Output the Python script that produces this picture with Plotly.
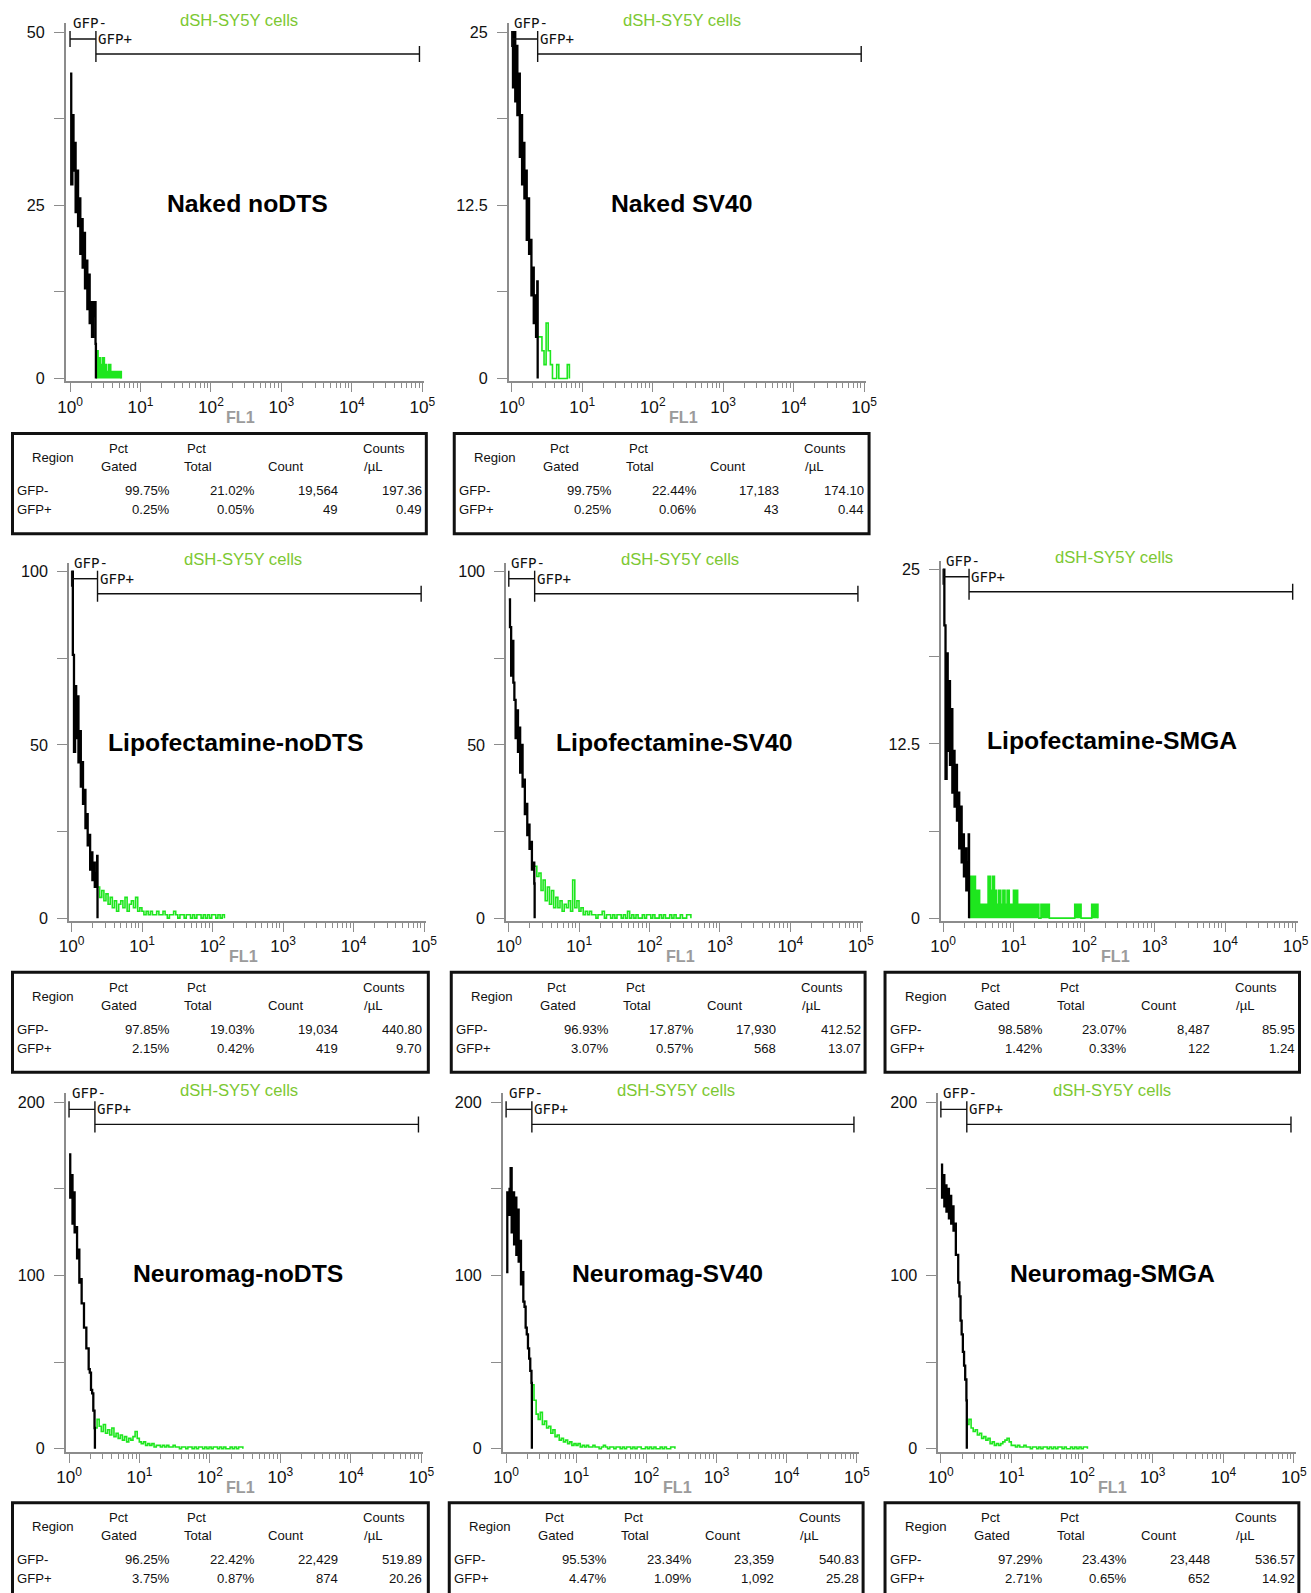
import math
import plotly.graph_objects as go

W, H = 1311, 1593

# ---------------- data ----------------
PANEL_NAMES = ["Naked noDTS", "Naked SV40", "Lipofectamine-noDTS", "Lipofectamine-SV40",
               "Lipofectamine-SMGA", "Neuromag-noDTS", "Neuromag-SV40", "Neuromag-SMGA"]
CELL_LINE = "dSH-SY5Y cells"
Y_MAX = [50, 25, 100, 100, 25, 200, 200, 200]

X_TICK_VALUES = [1, 10, 100, 1000, 10000, 100000]
X_TICK_TEXT = ["10<sup>0</sup>", "10<sup>1</sup>", "10<sup>2</sup>",
               "10<sup>3</sup>", "10<sup>4</sup>", "10<sup>5</sup>"]
X_TITLE = "FL1"

GATE_LOW = 1.0
GATE_SPLIT = 2.33
GATE_HIGH = 91000
GATE_NAMES = ["GFP-", "GFP+"]

# FL1 channel positions (bins)
BLACK_X = [1.00, 1.04, 1.08, 1.12, 1.16, 1.20, 1.25, 1.30, 1.35, 1.40, 1.45, 1.51,
           1.57, 1.63, 1.69, 1.76, 1.83, 1.90, 1.97, 2.05, 2.13, 2.21, 2.30, 2.33]
GREEN_X = [2.33, 2.50, 2.68, 2.87, 3.07, 3.29, 3.53, 3.78, 4.05, 4.34,
           4.65, 4.98, 5.34, 5.72, 6.13, 6.57, 7.04, 7.54, 8.08, 8.66,
           9.28, 9.94, 10.6, 11.4, 12.2, 13.1, 14.0, 15.0, 16.1, 17.3,
           18.5, 19.8, 21.2, 22.8, 24.4, 26.1, 28.0, 30.0, 32.1, 34.4,
           36.9, 39.5, 42.3, 45.4, 48.6, 52.1, 55.8, 59.8, 64.1, 68.7,
           73.6, 78.8, 84.5, 90.5, 97.0, 104, 111, 119, 128, 137,
           147, 157, 168, 180, 193, 207, 222, 238, 255, 273,
           293, 314, 336, 360, 386]

black_naked_nodts = [44, 28, 38, 30, 34, 24, 30, 22, 26, 18, 23, 16, 21, 13, 17, 10, 15, 8, 11, 6, 9, 11, 5, 0]
black_naked_sv40 = [25, 21, 25, 20, 24, 19, 22, 16, 19, 14, 17, 13, 15, 10, 13, 9, 10, 6, 8, 4, 6, 3, 7, 0]
black_lipo_nodts = [100, 76, 48, 67, 52, 64, 45, 54, 38, 45, 33, 37, 26, 30, 21, 24, 14, 19, 11, 16, 9, 13, 18, 0]
black_lipo_sv40 = [92, 84, 70, 80, 68, 63, 52, 60, 48, 55, 42, 50, 38, 40, 30, 33, 24, 27, 20, 22, 14, 16, 10, 0]
black_lipo_smga = [25, 21, 10, 19, 12, 17, 11, 15, 9, 12, 8, 11, 7, 9, 5, 8, 4, 6, 3, 5, 2, 4, 6, 0]
black_neuro_nodts = [170, 145, 158, 130, 148, 125, 128, 110, 115, 96, 98, 84, 84, 70, 70, 58, 58, 46, 44, 34, 32, 22, 12, 0]
black_neuro_sv40 = [102, 148, 135, 150, 162, 125, 148, 118, 145, 112, 138, 108, 120, 95, 102, 85, 82, 70, 66, 58, 52, 45, 38, 0]
black_neuro_smga = [164, 145, 158, 140, 152, 137, 150, 133, 146, 130, 140, 126, 130, 112, 112, 96, 88, 74, 66, 56, 48, 40, 28, 0]

green_naked_nodts = [4, 3, 2, 3, 2, 1, 2, 1, 1, 1, 1, 1, 0]
green_naked_sv40 = [3, 3, 2, 1, 4, 2, 1, 0, 0, 1, 0, 0, 0, 0, 1, 0]
green_lipo_nodts = [9, 6, 8, 5, 7, 4, 6, 3, 5, 2, 4, 5, 3, 6, 2, 4, 5, 3, 6, 2,
                    3, 2, 1, 2, 1, 2, 1, 1, 2, 1, 1, 2, 1, 0, 1, 1, 2, 1, 0, 1,
                    1, 0, 1, 1, 0, 1, 0, 1, 1, 0, 1, 0, 1, 0, 1, 1, 0, 1, 0, 1, 0]
green_lipo_sv40 = [15, 12, 13, 8, 11, 5, 9, 4, 8, 3, 6, 3, 5, 2, 4, 3, 5, 2, 11, 3,
                   5, 2, 3, 1, 2, 1, 2, 1, 1, 0, 1, 1, 2, 0, 1, 1, 0, 1, 0, 1,
                   1, 0, 1, 0, 2, 0, 1, 0, 1, 0, 0, 1, 0, 1, 1, 0, 1, 0, 0, 1,
                   0, 1, 0, 0, 1, 0, 1, 0, 0, 1, 0, 0, 1, 1, 0]
green_lipo_smga = [3, 3, 3, 2, 2, 1, 1, 1, 1, 3, 2, 3, 2, 1, 2, 1, 2, 1, 2, 1,
                   1, 2, 2, 1, 1, 1, 1, 1, 1, 1, 1, 1, 1, 0, 1, 1, 1, 1, 0, 0,
                   0, 0, 0, 0, 0, 0, 0, 0, 0, 0, 1, 1, 1, 0, 0, 0, 0, 0, 1, 1, 1, 0]
green_neuro_nodts = [12, 17, 13, 10, 14, 9, 11, 8, 12, 7, 9, 6, 8, 5, 7, 4, 6, 5, 7, 10,
                     6, 4, 3, 4, 2, 3, 2, 3, 1, 2, 2, 1, 2, 1, 2, 1, 1, 2, 1, 1,
                     0, 1, 1, 0, 1, 1, 0, 1, 0, 1, 1, 0, 1, 0, 1, 0, 1, 1, 0, 1,
                     0, 1, 0, 0, 1, 0, 1, 0, 1, 1, 0]
green_neuro_sv40 = [37, 28, 20, 17, 21, 14, 16, 12, 13, 9, 11, 7, 8, 5, 6, 4, 5, 3, 4, 2,
                    3, 2, 3, 1, 2, 1, 2, 1, 1, 2, 1, 1, 0, 1, 2, 1, 0, 1, 1, 0,
                    1, 1, 0, 1, 0, 1, 1, 0, 1, 0, 1, 1, 0, 0, 1, 0, 1, 0, 1, 0,
                    0, 1, 0, 1, 0, 0, 1, 1, 0]
green_neuro_smga = [14, 17, 12, 10, 11, 8, 9, 6, 7, 5, 6, 3, 4, 2, 3, 2, 3, 4, 5, 6,
                    4, 2, 2, 1, 2, 1, 1, 2, 1, 1, 0, 1, 1, 0, 1, 0, 1, 1, 0, 1,
                    0, 1, 0, 1, 1, 0, 1, 0, 0, 1, 0, 1, 0, 1, 0, 1, 1, 0]

BLACK_SERIES = [black_naked_nodts, black_naked_sv40, black_lipo_nodts, black_lipo_sv40,
                black_lipo_smga, black_neuro_nodts, black_neuro_sv40, black_neuro_smga]
GREEN_SERIES = [green_naked_nodts, green_naked_sv40, green_lipo_nodts, green_lipo_sv40,
                green_lipo_smga, green_neuro_nodts, green_neuro_sv40, green_neuro_smga]

GATED_NEG = ["99.75%", "99.75%", "97.85%", "96.93%", "98.58%", "96.25%", "95.53%", "97.29%"]
GATED_POS = ["0.25%", "0.25%", "2.15%", "3.07%", "1.42%", "3.75%", "4.47%", "2.71%"]
TOTAL_NEG = ["21.02%", "22.44%", "19.03%", "17.87%", "23.07%", "22.42%", "23.34%", "23.43%"]
TOTAL_POS = ["0.05%", "0.06%", "0.42%", "0.57%", "0.33%", "0.87%", "1.09%", "0.65%"]
COUNT_NEG = ["19,564", "17,183", "19,034", "17,930", "8,487", "22,429", "23,359", "23,448"]
COUNT_POS = ["49", "43", "419", "568", "122", "874", "1,092", "652"]
CPUL_NEG = ["197.36", "174.10", "440.80", "412.52", "85.95", "519.89", "540.83", "536.57"]
CPUL_POS = ["0.49", "0.44", "9.70", "13.07", "1.24", "20.26", "25.28", "14.92"]

# ---------------- layout / style (target pixels) ----------------
# y-axis line x, 10^0 x, 10^5 x, y of max level, y of zero level
GEOM = [
    (63.3, 67.7, 421.0, 32, 378),
    (507.7, 510.7, 864.0, 32, 378),
    (66.7, 69.3, 422.7, 571, 917),
    (505.0, 507.7, 860.7, 571, 917),
    (941.0, 943.3, 1296.7, 569, 917),
    (63.3, 66.7, 420.0, 1101, 1447),
    (501.7, 505.0, 856.7, 1101, 1447),
    (938.3, 941.0, 1295.0, 1101, 1447),
]
LABEL_CX = [246, 681, 234, 673, 1113, 236, 667, 1113]
# table box: left, top, right
TABLE_BOX = [(10, 433, 425), (453, 433, 869), (10, 971, 427), (450, 971, 865),
             (885, 971, 1302), (10, 1501, 427), (448, 1501, 863), (885, 1501, 1300)]
TABLE_H = 100

# the captured page comes out slightly compressed; positions are pre-compensated
OX, SX, SY = 8.5, 0.986, 0.995
FS = 1.01

AX_GRAY = "#8c8c8c"
HIST_GREEN = "#1ee61e"
TITLE_GREEN = "#7cc832"
FONT = "Liberation Sans, Arial, sans-serif"
MONO = "DejaVu Sans Mono, monospace"
FILLED = [True, False, False, False, True, False, False, False]


def pxx(p):
    return min((p - OX) / SX, W - 0.5) / W


def pxy(p):
    return 1 - (p / SY) / H


fig = go.Figure()
annotations = []
shapes = []

for k in range(8):
    L, a, b, top, y0 = GEOM[k]
    ymax = Y_MAX[k]
    sfx = "" if k == 0 else str(k + 1)
    pd_ = (b - a) / 5.0
    pu = (y0 - top) / ymax
    xr = [-(a - L) / pd_, 5 + 2 / pd_]
    yr = [-3 / pu, ymax + 9 / pu]

    fig.update_layout(**{
        f"xaxis{sfx}": dict(
            type="log", domain=[pxx(L), pxx(b + 2)], range=xr, anchor=f"y{sfx}",
            showline=True, linecolor=AX_GRAY, linewidth=1.5, mirror=False,
            ticks="outside", ticklen=9, tickwidth=1.2, tickcolor=AX_GRAY,
            tickvals=X_TICK_VALUES, ticktext=X_TICK_TEXT,
            tickfont=dict(family=FONT, size=17 * FS, color="#111"),
            showgrid=False, zeroline=False,
            minor=dict(tickvals=[m * 10 ** d for d in range(5) for m in range(2, 10)],
                       ticks="outside", ticklen=5, tickwidth=1, tickcolor=AX_GRAY, showgrid=False),
        ),
        f"yaxis{sfx}": dict(
            domain=[pxy(y0 + 3), pxy(top - 9)], range=yr, anchor=f"x{sfx}",
            showline=True, linecolor=AX_GRAY, linewidth=1.5,
            ticks="outside", ticklen=10, tickwidth=1.2, tickcolor=AX_GRAY,
            tickvals=[0, ymax * 0.25, ymax * 0.5, ymax * 0.75, ymax],
            ticktext=["0", "", f"{ymax * 0.5:g}", "", f"{ymax:g}"],
            tickfont=dict(family=FONT, size=16 * FS, color="#111"),
            ticklabelstandoff=6,
            showgrid=False, zeroline=False,
        ),
    })

    gx = GREEN_X[:len(GREEN_SERIES[k])]
    gy = GREEN_SERIES[k][:len(gx)]
    fig.add_trace(go.Scatter(
        x=gx, y=gy, mode="lines", xaxis=f"x{sfx}", yaxis=f"y{sfx}",
        line=dict(color=HIST_GREEN, width=1.6, shape="hv"),
        fill="tozeroy" if FILLED[k] else None,
        fillcolor=HIST_GREEN, hoverinfo="skip", showlegend=False))
    fig.add_trace(go.Scatter(
        x=BLACK_X, y=BLACK_SERIES[k], mode="lines", xaxis=f"x{sfx}", yaxis=f"y{sfx}",
        line=dict(color="black", width=2.3, shape="hv"),
        hoverinfo="skip", showlegend=False))

    # gate brackets (shape x in data units on the log axis)
    ln = dict(color="#111", width=1.4)
    xref = f"x{sfx}"
    for (x0, x1, yy0, yy1) in [
        (GATE_LOW, GATE_SPLIT, top + 7, top + 7),
        (GATE_LOW, GATE_LOW, top - 1, top + 15),
        (GATE_SPLIT, GATE_SPLIT, top - 1, top + 30),
        (GATE_SPLIT, GATE_HIGH, top + 22, top + 22),
        (GATE_HIGH, GATE_HIGH, top + 14, top + 30),
    ]:
        shapes.append(dict(type="line", xref=xref, yref="paper", x0=x0, x1=x1,
                           y0=pxy(yy0), y1=pxy(yy1), line=ln))
    split_px = a + math.log10(GATE_SPLIT) * pd_
    annotations.append(dict(text=GATE_NAMES[0], xref="paper", yref="paper",
                            x=pxx(a + 0.5), y=pxy(top - 9), xanchor="left", yanchor="middle",
                            showarrow=False, font=dict(family=MONO, size=14 * FS, color="#111")))
    annotations.append(dict(text=GATE_NAMES[1], xref="paper", yref="paper",
                            x=pxx(split_px), y=pxy(top + 7), xanchor="left", yanchor="middle",
                            showarrow=False, font=dict(family=MONO, size=14 * FS, color="#111")))
    # green cell line title
    annotations.append(dict(text=CELL_LINE, xref="paper", yref="paper",
                            x=pxx(L + 174), y=pxy(top - 12), xanchor="center", yanchor="middle",
                            showarrow=False, font=dict(family=FONT, size=16.5 * FS, color=TITLE_GREEN)))
    # panel label
    annotations.append(dict(text=f"<b>{PANEL_NAMES[k]}</b>", xref="paper", yref="paper",
                            x=pxx(LABEL_CX[k]), y=pxy(top + 171), xanchor="center", yanchor="middle",
                            showarrow=False, font=dict(family=FONT, size=24.5 * FS, color="#000")))
    # axis title
    annotations.append(dict(text=f"<b>{X_TITLE}</b>", xref="paper", yref="paper",
                            x=pxx(L + 175), y=pxy(y0 + 38), xanchor="center", yanchor="middle",
                            showarrow=False, font=dict(family=FONT, size=16 * FS, color="#9b9b9b")))

    # statistics table
    tl, tt, tr = TABLE_BOX[k]
    shapes.append(dict(type="rect", xref="paper", yref="paper",
                       x0=pxx(tl), x1=pxx(tr), y0=pxy(tt), y1=pxy(tt + TABLE_H),
                       line=dict(color="#111", width=3), fillcolor="rgba(0,0,0,0)"))
    tf = dict(family=FONT, size=13 * FS, color="#111")

    def tx(text, x, y, anchor):
        annotations.append(dict(text=text, xref="paper", yref="paper", x=pxx(x), y=pxy(y),
                                xanchor=anchor, yanchor="middle", showarrow=False, font=tf,
                                borderpad=0))

    tx("Region", tl + 41, tt + 24, "center")
    tx("Pct", tl + 106, tt + 15, "center")
    tx("Gated", tl + 107, tt + 33, "center")
    tx("Pct", tl + 185, tt + 15, "center")
    tx("Total", tl + 186, tt + 33, "center")
    tx("Count", tl + 274, tt + 33, "center")
    tx("Counts", tl + 350, tt + 15, "left")
    tx("/µL", tl + 351, tt + 33, "left")
    rows = [(GATE_NAMES[0], GATED_NEG[k], TOTAL_NEG[k], COUNT_NEG[k], CPUL_NEG[k], tt + 57),
            (GATE_NAMES[1], GATED_POS[k], TOTAL_POS[k], COUNT_POS[k], CPUL_POS[k], tt + 76)]
    for name, g, t, c, cp, ry in rows:
        tx(name, tl + 4, ry, "left")
        tx(g, tl + 159, ry, "right")
        tx(t, tl + 244, ry, "right")
        tx(c, tl + 327, ry, "right")
        tx(cp, tl + 412, ry, "right")

fig.update_layout(width=W, height=H, margin=dict(l=0, r=0, t=0, b=0),
                  paper_bgcolor="white", plot_bgcolor="white", showlegend=False,
                  annotations=annotations, shapes=shapes)

fig.write_html("out.html")
